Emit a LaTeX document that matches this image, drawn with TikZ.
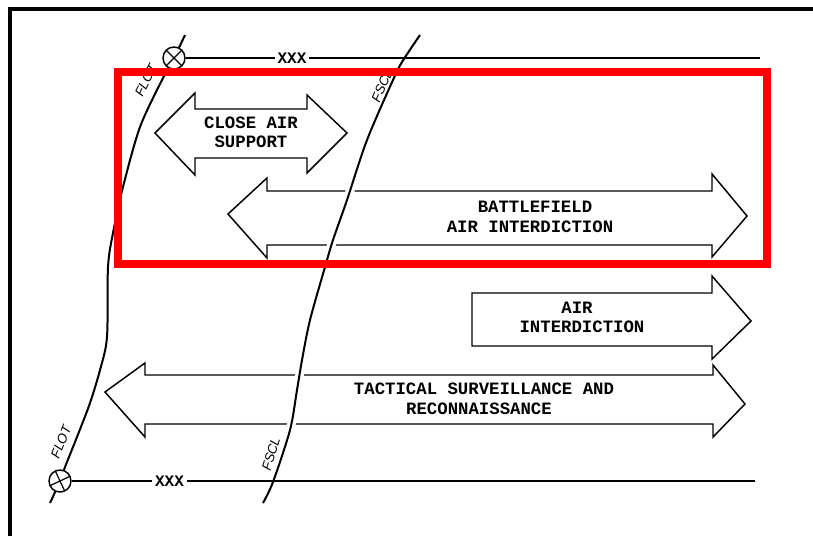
\documentclass[tikz,border=0pt]{standalone}
\usepackage{fontspec}
\newfontfamily\arrowfont{Liberation Mono}
\newfontfamily\labelfont{Liberation Sans}
\begin{document}
\begin{tikzpicture}[x=0.75pt,y=-0.75pt,
  arrowshape/.style={draw=black, fill=white, line width=1.1pt, line join=miter},
  arrowtext/.style={font=\arrowfont\bfseries\fontsize{13}{15}\selectfont, inner sep=0pt},
  boundary/.style={line width=1.5pt},
  linelabel/.style={font=\labelfont\itshape\fontsize{10}{11}\selectfont, inner sep=0pt},
  xlabel/.style={font=\arrowfont\bfseries\fontsize{12}{14}\selectfont, fill=white, inner sep=2pt},
  junction/.style={circle, draw, fill=white, line width=1.1pt, minimum size=16.5pt, inner sep=0pt,
    path picture={\draw[line width=0.9pt] (path picture bounding box.center) ++(#1:10pt) -- ++(#1+180:20pt)
      (path picture bounding box.center) ++(#1+90:10pt) -- ++(#1+270:20pt);}},
  highlight/.style={draw=red, line width=6pt}]
\useasboundingbox (0,0) rectangle (813,536);
\fill[white] (0,0) rectangle (813,536);
% frame
\draw[line width=3pt] (10,536) -- (10,9) -- (813,9);
% arrows
\draw[arrowshape] (155,133) -- (195,93) -- (195,109) -- (307,109) -- (307,95) -- (347,133)
  -- (307,173) -- (307,158) -- (195,158) -- (195,175) -- cycle;
\draw[arrowshape] (228,214) -- (267,178) -- (267,191) -- (712,191) -- (712,174) -- (747,216)
  -- (712,257) -- (712,245) -- (267,245) -- (267,258) -- cycle;
\draw[arrowshape] (472,293) -- (712,293) -- (712,276) -- (751,321) -- (712,359) -- (712,346)
  -- (472,346) -- cycle;
\draw[arrowshape] (105,392) -- (145,363) -- (145,375) -- (713,375) -- (713,365) -- (745,404)
  -- (713,437) -- (713,424) -- (145,424) -- (145,437) -- cycle;
% arrow texts
\node[arrowtext] (cas1) at (251,123) {CLOSE AIR};
\node[arrowtext] (cas2) at (251,142) {SUPPORT};
\node[arrowtext] (bai1) at (535,207) {BATTLEFIELD};
\node[arrowtext] (bai2) at (530,227) {AIR INTERDICTION};
\node[arrowtext] (ai1) at (577,308) {AIR};
\node[arrowtext] (ai2) at (582,327) {INTERDICTION};
\node[arrowtext] (tsr1) at (484,389) {TACTICAL SURVEILLANCE AND};
\node[arrowtext] (tsr2) at (479,409) {RECONNAISSANCE};
% halo where FSCL crosses arrow outlines
\begin{scope}
\clip (320,185) rectangle (380,197) (305,239) rectangle (360,251)
      (280,369) rectangle (320,381) (270,418) rectangle (310,430);
\draw[white, line width=6.5pt] plot[smooth, tension=0.5] coordinates {(420,35) (402,62) (393,80) (367,140) (347,200) (333,240) (325,267) (310,320) (302,360) (297,390) (290,430) (273,482) (263,503)};
\end{scope}
% FSCL and FLOT
\draw[boundary] plot[smooth, tension=0.5] coordinates {(420,35) (402,62) (393,80) (367,140) (347,200) (333,240) (325,267) (310,320) (302,360) (297,390) (290,430) (273,482) (263,503)};
\draw[boundary] plot[smooth, tension=0.5] coordinates {(185,35) (174,58) (163,78) (140,127) (123,187) (113,233) (108,267) (107,337) (100,370) (90,403) (77,437) (65,467) (60,481) (50,503)};
% boundary lines
\node[junction=45] (jt) at (174,58) {};
\node[junction=25] (jb) at (60,481) {};
\node[xlabel] (xt) at (292,58) {XXX};
\node[xlabel] (xb) at (169.5,481) {XXX};
\coordinate (et) at (760,58);
\coordinate (eb) at (755,481);
\draw[boundary] (jt.east) -- (xt.west);
\draw[boundary] (xt.east) -- (et);
\draw[boundary] (jb.east) -- (xb.west);
\draw[boundary] (xb.east) -- (eb);
% line labels
\node[linelabel, rotate=64] (flott) at (146,80) {FLOT};
\node[linelabel, rotate=66] (fsclt) at (382,86) {FSCL};
\node[linelabel, rotate=68] (flotb) at (61,442) {FLOT};
\node[linelabel, rotate=73] (fsclb) at (271,454) {FSCL};
% highlight
\draw[highlight] (118,72) rectangle (767,264);
\end{tikzpicture}
\end{document}
